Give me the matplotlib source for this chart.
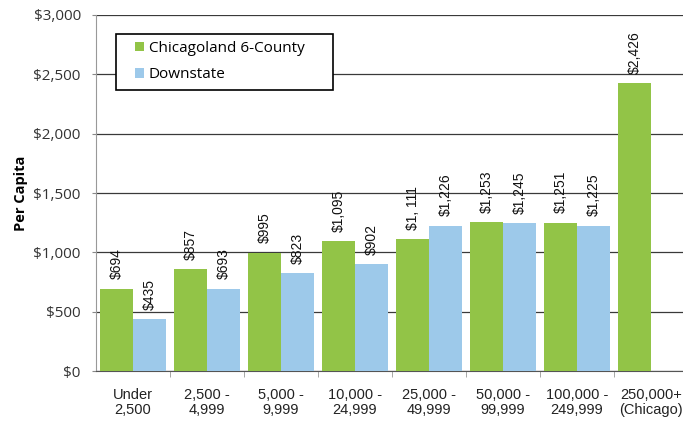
import matplotlib.pyplot as plt
from matplotlib.patches import Rectangle
import numpy as np

categories = ['Under\n2,500', '2,500 -\n4,999', '5,000 -\n9,999', '10,000 -\n24,999',
              '25,000 -\n49,999', '50,000 -\n99,999', '100,000 -\n249,999', '250,000+\n(Chicago)']
chicagoland = [694, 857, 995, 1095, 1111, 1253, 1251, 2426]
downstate = [435, 693, 823, 902, 1226, 1245, 1225, None]
chicagoland_labels = ['$694', '$857', '$995', '$1,095', '$1, 111', '$1,253', '$1,251', '$2,426']
downstate_labels = ['$435', '$693', '$823', '$902', '$1,226', '$1,245', '$1,225', '']

green = '#92C447'
blue = '#9DC9EA'
label_font = 'Liberation Sans'

fig = plt.figure(figsize=(6.83, 4.28), dpi=100)
# plot area runs slightly past the right edge, like the scanned original
ax = fig.add_axes([0.1406, 0.133, 0.8668, 0.832])

x = np.arange(len(categories))
w = 0.446


def value_label(xpos, val, txt):
    ax.text(xpos, val + 80, txt, rotation=90, ha='center', va='bottom',
            fontsize=10, family=label_font, color='#111111', zorder=4)


for i in range(len(categories)):
    ax.bar(x[i] - w / 2, chicagoland[i], w, color=green, zorder=3)
    value_label(x[i] - w / 2, chicagoland[i], chicagoland_labels[i])
    if downstate[i] is not None:
        ax.bar(x[i] + w / 2, downstate[i], w, color=blue, zorder=3)
        value_label(x[i] + w / 2, downstate[i], downstate_labels[i])

# legend handles
ax.bar([0], [0], color=green, label='Chicagoland 6-County')
ax.bar([0], [0], color=blue, label='Downstate')

ax.set_xlim(-0.5, len(categories) - 0.5)
ax.set_ylim(0, 3000)
ax.set_yticks(np.arange(0, 3001, 500))
ax.set_yticklabels(['$0', '$500', '$1,000', '$1,500', '$2,000', '$2,500', '$3,000'],
                   family='Open Sans', fontsize=11, color='#333333')
ax.set_xticks(x)
ax.set_xticklabels(categories, family=label_font, fontsize=10.5, color='#222222',
                   linespacing=1.15)
ax.set_xticks(np.arange(0.5, len(categories) - 0.5), minor=True)
ax.tick_params(axis='x', which='major', length=0, pad=12)
ax.tick_params(axis='x', which='minor', length=4, color='#999999')
ax.tick_params(axis='y', length=3, color='#888888', pad=8)

ax.grid(axis='y', color='#3a3a3a', linewidth=0.9, zorder=0)
for s in ['top', 'right']:
    ax.spines[s].set_visible(False)
ax.spines['left'].set_color('#999999')
ax.spines['bottom'].set_color('#555555')

ax.set_ylabel('Per Capita', fontweight='bold', fontsize=10.5, family='Open Sans', labelpad=4)

# legend frame drawn separately so the side padding can be wider than the top/bottom
ax.add_patch(Rectangle((0.034, 0.789), 0.366, 0.158, transform=ax.transAxes,
                       facecolor='white', edgecolor='black', linewidth=1.2, zorder=5,
                       clip_on=False))
leg = ax.legend(loc='upper left', bbox_to_anchor=(0.066, 0.927), frameon=False,
                handlelength=0.55, handleheight=0.55, handletextpad=0.35,
                borderpad=0, borderaxespad=0, labelspacing=0.75,
                prop={'family': 'Open Sans', 'size': 11})
leg.set_zorder(6)

fig.savefig('out.png', dpi=100)
